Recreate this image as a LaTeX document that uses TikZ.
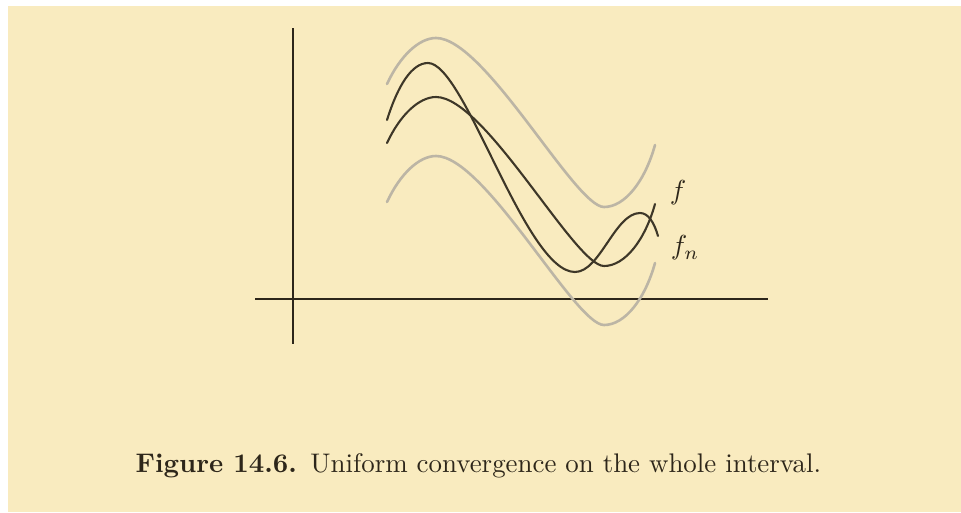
\documentclass[tikz,border=0pt]{standalone}
\usepackage{xcolor}
\definecolor{bgbeige}{RGB}{249,235,191}
\definecolor{inkdark}{RGB}{45,38,26}
\definecolor{curvedark}{RGB}{62,55,40}
\definecolor{curvegray}{RGB}{188,181,165}
\begin{document}
\begin{tikzpicture}[x=1pt,y=-1pt,
  axisline/.style={inkdark,line width=1.8pt},
  darkcurve/.style={curvedark,line width=2.1pt,line cap=round},
  graycurve/.style={curvegray,line width=2.6pt,line cap=round},
  lbl/.style={inkdark,scale=2.75,inner sep=0pt},
  captext/.style={inkdark,scale=2.69,inner sep=0pt,anchor=base west}]
\useasboundingbox (0,0) rectangle (961,512);
\fill[white] (0,0) rectangle (961,512);
\fill[bgbeige] (8,6) rectangle (961,512);
% axes
\draw[axisline] (293,28) -- (293,344);
\draw[axisline] (255,299) -- (768,299);
% f and its band
\def\fpath{(387,143) .. controls (400,115) and (419,97) .. (436,97)
  .. controls (485,97) and (575,266) .. (604,266)
  .. controls (625,266) and (645,240) .. (655,204)}
\draw[graycurve,shift={(0,-59)}] \fpath;
\draw[graycurve,shift={(0,59)}] \fpath;
\draw[darkcurve] \fpath;
% f_n
\draw[darkcurve] (387,120) .. controls (398,85) and (412,63) .. (428,63)
  .. controls (465,63) and (525,272) .. (575,272)
  .. controls (600,272) and (615,213) .. (640,213)
  .. controls (648,213) and (654,222) .. (658,236);
% labels
\node[lbl] (flabel) at (678,193) {$f$};
\node[lbl] (fnlabel) at (685,248) {$f_n$};
% caption
\node[captext] (caption) at (135,472) {\textbf{Figure 14.6.}\enspace Uniform convergence on the whole interval.};
\end{tikzpicture}
\end{document}
